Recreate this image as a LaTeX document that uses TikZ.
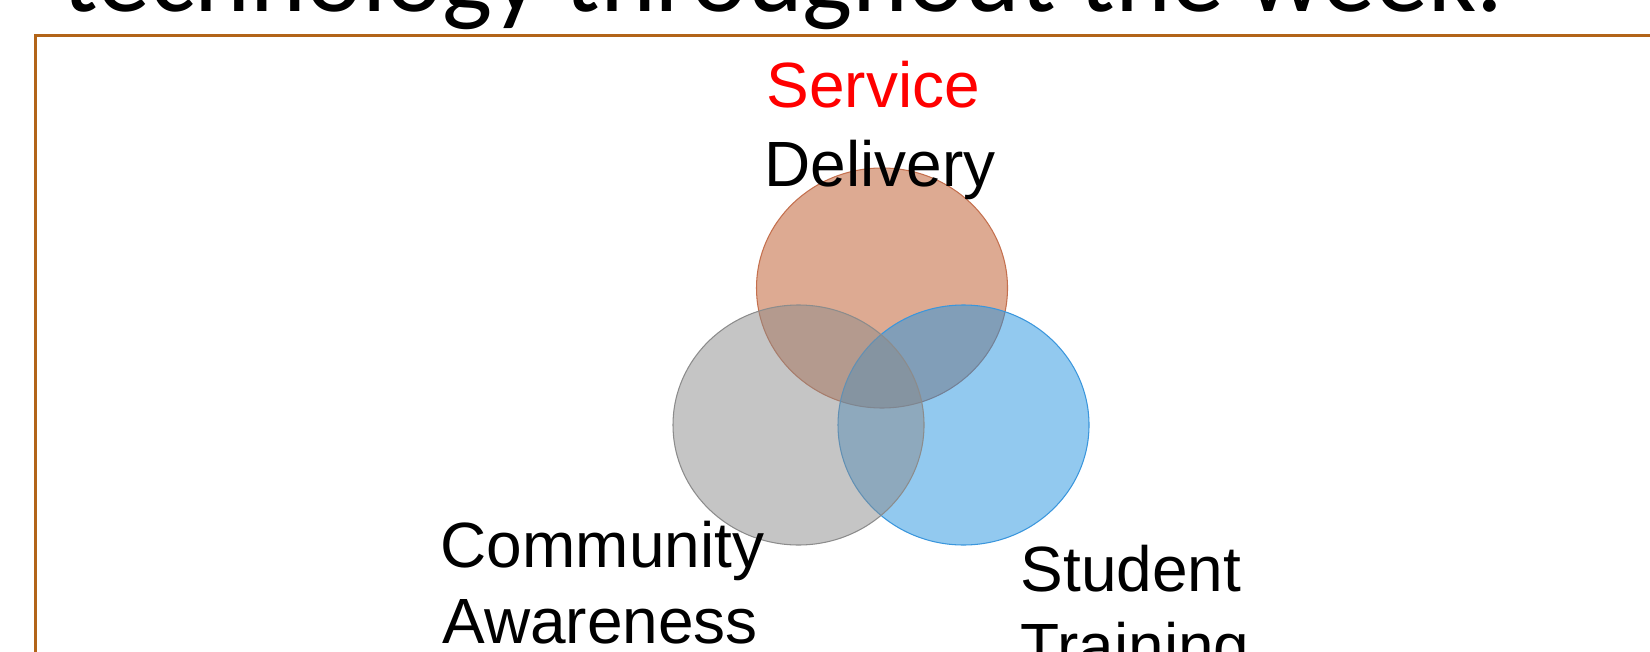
\documentclass[tikz,border=0pt]{standalone}
\usepackage{fontspec}
\setmainfont{Liberation Sans}
\newfontfamily\headfont{Carlito}
\usetikzlibrary{shapes.geometric}

\definecolor{framebrown}{RGB}{178,100,24}
\definecolor{deliveryfill}{RGB}{187,85,37}
\definecolor{deliveryline}{RGB}{196,112,78}
\definecolor{trainingfill}{RGB}{37,147,223}
\definecolor{trainingline}{RGB}{58,150,220}
\definecolor{awarenessfill}{RGB}{139,139,139}
\definecolor{awarenessline}{RGB}{140,140,140}

\tikzset{
    venn/.style={ellipse, draw, line width=0.3pt, fill opacity=0.5, inner sep=0pt,
        minimum width=25.1mm, minimum height=24mm},
    word/.style={anchor=base west, inner sep=0pt, font=\fontsize{18.2}{21.9}\selectfont}
}

\begin{document}
\begin{tikzpicture}[x=0.1mm, y=-0.1mm]
        \useasboundingbox (0,0) rectangle (1650,652);
        \clip (0,0) rectangle (1650,652);

        % heading (cut off)
        \node[anchor=base west, inner sep=0pt, font=\headfont\fontsize{30.2}{36}\selectfont] (heading) at (62,12) {technology throughout the week.};

        % frame
        \draw[framebrown, line width=0.85pt] (35.5,700) -- (35.5,35.5) -- (1700,35.5);

        % circles
        \node[venn, draw=deliveryline, fill=deliveryfill] (delivery) at (882,288) {};
        \node[venn, draw=trainingline, fill=trainingfill] (training) at (963.5,425) {};
        \node[venn, draw=awarenessline, fill=awarenessfill] (awareness) at (798.5,425) {};

        % labels
        \node[word, text=red] (lservice) at (766,108) {Service};
        \node[word] (ldelivery) at (764,186) {Delivery};
        \node[word] (lcommunity) at (440,567) {Community};
        \node[word] (lawareness) at (442,643) {Awareness};
        \node[word] (lstudent) at (1020,591) {Student};
        \node[word] (ltraining) at (1020,668) {Training};
\end{tikzpicture}
\end{document}
